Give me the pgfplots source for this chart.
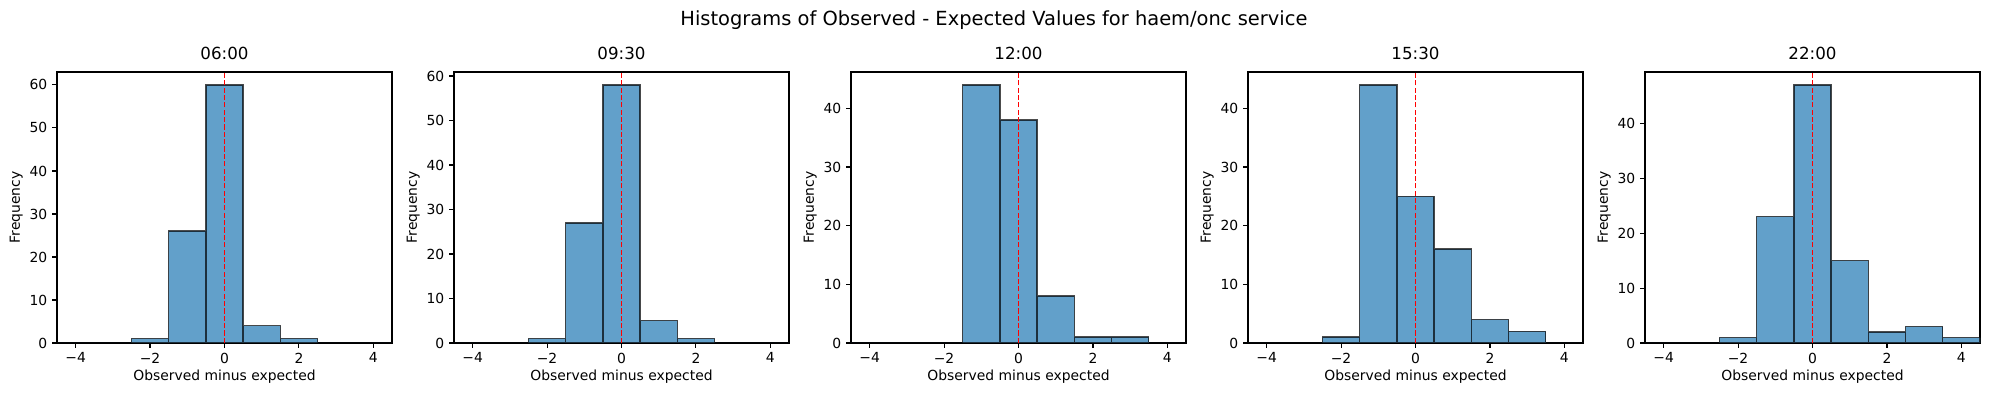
\documentclass[border=0pt]{standalone}
\usepackage{fontspec}
\setmainfont{DejaVu Sans}
\usepackage{pgfplots}
\pgfplotsset{compat=1.18}
\definecolor{barblue}{RGB}{98,160,202}
\pgfplotsset{
  histax/.style={
    scale only axis,
    width=241.2pt, height=195.1pt,
    xmin=-4.5, xmax=4.5, ymin=0,
    xtick={-4,-2,0,2,4},
    xticklabels={−4,−2,0,2,4},
    ytick distance=10,
    /pgf/number format/assume math mode=true,
    tick align=outside,
    xtick pos=bottom, ytick pos=left,
    major tick length=3.5pt,
    every tick/.style={black, line width=0.8pt},
    axis line style={line width=0.8pt},
    tick label style={font=\fontsize{10}{12}\selectfont},
    label style={font=\fontsize{10}{12}\selectfont},
    title style={font=\fontsize{12}{14}\selectfont, yshift=-1pt},
    xlabel={Observed minus expected},
    ylabel={Frequency},
    xlabel style={yshift=2pt},
    ylabel style={yshift=-2pt},
  },
  histbar/.style={ybar interval, fill=barblue, draw=black, draw opacity=0.7, line width=1pt},
  zeroline/.style={red, line width=1pt, dash pattern=on 3.7pt off 1.6pt},
}
\begin{document}
\begin{tikzpicture}
\path (-41.04pt,-38.16pt) rectangle (1391.04pt,246.96pt);
\node[font=\fontsize{14}{17}\selectfont] at (674.6pt,232.6pt) {Histograms of Observed - Expected Values for haem/onc service};

\begin{axis}[histax, at={(0pt,0pt)}, anchor=south west, ymax=63, title={06:00}]
\addplot[histbar] coordinates {(-4.5,0) (-3.5,0) (-2.5,1) (-1.5,26) (-0.5,60) (0.5,4) (1.5,1) (2.5,0) (3.5,0) (4.5,0)};
\addplot[zeroline] coordinates {(0,0) (0,100)};
\end{axis}

\begin{axis}[histax, at={(285.84pt,0pt)}, anchor=south west, ymax=60.9, title={09:30}]
\addplot[histbar] coordinates {(-4.5,0) (-3.5,0) (-2.5,1) (-1.5,27) (-0.5,58) (0.5,5) (1.5,1) (2.5,0) (3.5,0) (4.5,0)};
\addplot[zeroline] coordinates {(0,0) (0,100)};
\end{axis}

\begin{axis}[histax, at={(571.68pt,0pt)}, anchor=south west, ymax=46.2, title={12:00}]
\addplot[histbar] coordinates {(-4.5,0) (-3.5,0) (-2.5,0) (-1.5,44) (-0.5,38) (0.5,8) (1.5,1) (2.5,1) (3.5,0) (4.5,0)};
\addplot[zeroline] coordinates {(0,0) (0,100)};
\end{axis}

\begin{axis}[histax, at={(857.52pt,0pt)}, anchor=south west, ymax=46.2, title={15:30}]
\addplot[histbar] coordinates {(-4.5,0) (-3.5,0) (-2.5,1) (-1.5,44) (-0.5,25) (0.5,16) (1.5,4) (2.5,2) (3.5,0) (4.5,0)};
\addplot[zeroline] coordinates {(0,0) (0,100)};
\end{axis}

\begin{axis}[histax, at={(1143.36pt,0pt)}, anchor=south west, ymax=49.35, title={22:00}]
\addplot[histbar] coordinates {(-4.5,0) (-3.5,0) (-2.5,1) (-1.5,23) (-0.5,47) (0.5,15) (1.5,2) (2.5,3) (3.5,1) (4.5,0)};
\addplot[zeroline] coordinates {(0,0) (0,100)};
\end{axis}
\end{tikzpicture}
\end{document}
